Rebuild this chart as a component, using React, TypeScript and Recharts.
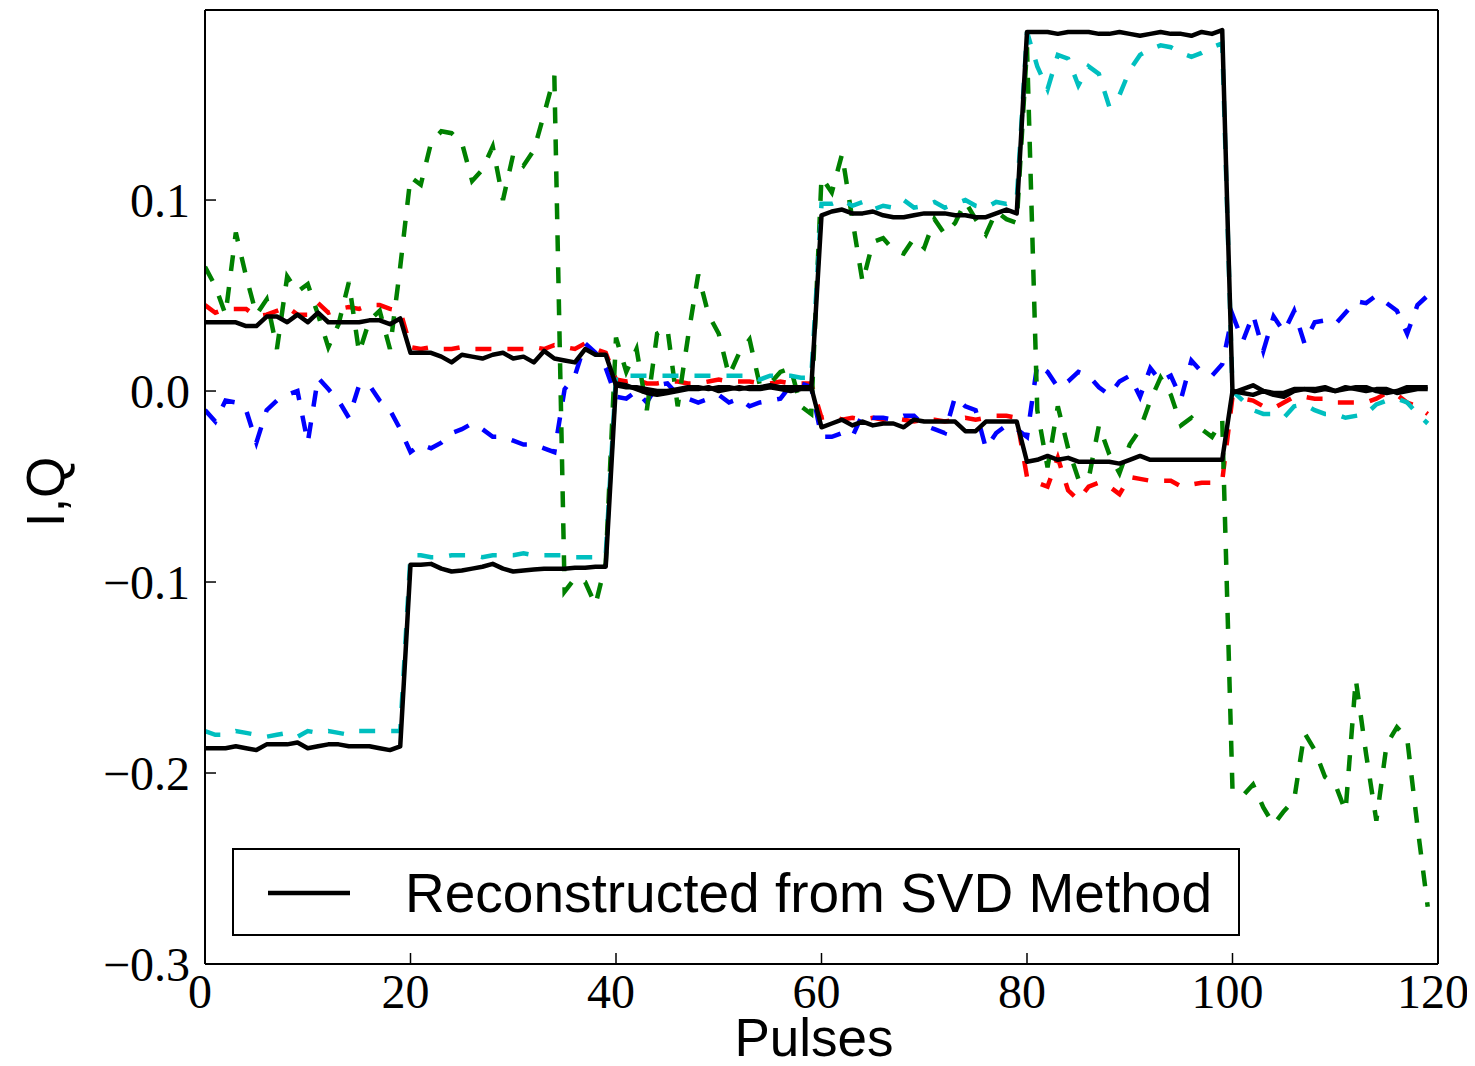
import React from 'react';
import { LineChart, Line, XAxis, YAxis, Legend } from 'recharts';

// Pulse index (x categories)
const pulses: number[] = [
  0, 1, 2, 3, 4, 5, 6, 7, 8, 9, 10, 11, 12, 13, 14, 15, 16, 17, 18, 19,
  20, 21, 22, 23, 24, 25, 26, 27, 28, 29, 30, 31, 32, 33, 34, 35, 36, 37, 38, 39,
  40, 41, 42, 43, 44, 45, 46, 47, 48, 49, 50, 51, 52, 53, 54, 55, 56, 57, 58, 59,
  60, 61, 62, 63, 64, 65, 66, 67, 68, 69, 70, 71, 72, 73, 74, 75, 76, 77, 78, 79,
  80, 81, 82, 83, 84, 85, 86, 87, 88, 89, 90, 91, 92, 93, 94, 95, 96, 97, 98, 99,
  100, 101, 102, 103, 104, 105, 106, 107, 108, 109, 110, 111, 112, 113, 114, 115, 116, 117, 118, 119,
];

const xTicks = [0, 20, 40, 60, 80, 100, 120];
const yTicks = [-0.3, -0.2, -0.1, 0, 0.1];

// red dashed
const redSeries: number[] = [
  0.045, 0.041, 0.043, 0.043, 0.043, 0.039, 0.040, 0.042, 0.044, 0.040, 0.040, 0.046, 0.041, 0.043, 0.044, 0.043, 0.045, 0.045, 0.043, 0.042,
  0.023, 0.022, 0.023, 0.022, 0.022, 0.023, 0.022, 0.022, 0.022, 0.022, 0.022, 0.022, 0.023, 0.022, 0.024, 0.023, 0.022, 0.025, 0.022, 0.020,
  0.006, 0.005, 0.006, 0.004, 0.004, 0.005, 0.005, 0.004, 0.004, 0.005, 0.006, 0.005, 0.005, 0.005, 0.004, 0.004, 0.005, 0.004, 0.004, 0.004,
  -0.014, -0.013, -0.015, -0.014, -0.015, -0.014, -0.015, -0.014, -0.015, -0.016, -0.015, -0.015, -0.016, -0.015, -0.014, -0.015, -0.014, -0.013, -0.013, -0.014,
  -0.045, -0.048, -0.050, -0.035, -0.052, -0.057, -0.050, -0.048, -0.050, -0.054, -0.045, -0.046, -0.047, -0.047, -0.047, -0.050, -0.049, -0.048, -0.048, -0.047,
  -0.003, -0.004, -0.005, -0.008, -0.009, -0.006, -0.003, -0.003, -0.004, -0.004, -0.006, -0.006, -0.006, -0.006, -0.004, -0.001, -0.002, -0.006, -0.008, -0.012,
];

// blue dashed
const blueSeries: number[] = [
  -0.010, -0.016, -0.005, -0.006, -0.010, -0.027, -0.010, -0.005, -0.002, 0.000, -0.027, 0.007, 0.001, -0.005, -0.014, 0.003, 0.003, -0.005, -0.010, -0.020,
  -0.032, -0.028, -0.030, -0.027, -0.022, -0.020, -0.017, -0.020, -0.024, -0.024, -0.026, -0.028, -0.028, -0.030, -0.032, 0.001, 0.008, 0.025, 0.020, 0.012,
  -0.003, -0.004, 0.000, -0.006, 0.003, 0.004, -0.002, -0.004, -0.006, -0.004, -0.002, -0.006, -0.004, -0.008, -0.006, -0.005, -0.004, 0.003, 0.004, 0.002,
  -0.024, -0.024, -0.022, -0.024, -0.012, -0.014, -0.014, -0.015, -0.013, -0.013, -0.018, -0.020, -0.022, -0.003, -0.008, -0.010, -0.030, -0.022, -0.018, -0.020,
  -0.024, 0.014, 0.010, 0.002, 0.005, 0.010, 0.008, 0.002, -0.002, 0.005, 0.008, -0.003, 0.012, 0.005, 0.008, -0.004, 0.016, 0.010, 0.008, 0.014,
  0.040, 0.026, 0.040, 0.021, 0.039, 0.031, 0.042, 0.025, 0.036, 0.037, 0.035, 0.041, 0.047, 0.046, 0.050, 0.046, 0.042, 0.030, 0.045, 0.050,
];

// green dashed
const greenSeries: number[] = [
  0.065, 0.055, 0.040, 0.083, 0.060, 0.040, 0.048, 0.022, 0.060, 0.052, 0.056, 0.040, 0.023, 0.035, 0.057, 0.020, 0.037, 0.042, 0.022, 0.065,
  0.112, 0.108, 0.130, 0.136, 0.135, 0.130, 0.110, 0.116, 0.128, 0.100, 0.124, 0.118, 0.126, 0.145, 0.165, -0.105, -0.098, -0.100, -0.112, -0.090,
  0.028, 0.010, 0.022, -0.010, 0.030, 0.033, -0.008, 0.028, 0.061, 0.040, 0.030, 0.008, 0.020, 0.027, 0.003, 0.004, 0.010, 0.012, -0.008, -0.012,
  0.112, 0.104, 0.124, 0.090, 0.057, 0.078, 0.080, 0.074, 0.072, 0.080, 0.075, 0.090, 0.082, 0.088, 0.099, 0.090, 0.082, 0.094, 0.090, 0.088,
  0.180, -0.010, -0.040, -0.008, -0.030, -0.046, -0.046, -0.018, -0.033, -0.043, -0.028, -0.020, -0.005, 0.007, -0.002, -0.018, -0.014, -0.020, -0.024, -0.015,
  -0.209, -0.212, -0.206, -0.218, -0.227, -0.220, -0.214, -0.179, -0.188, -0.202, -0.206, -0.220, -0.151, -0.190, -0.225, -0.185, -0.176, -0.182, -0.228, -0.270,
];

// cyan dashed
const cyanSeries: number[] = [
  -0.178, -0.180, -0.180, -0.178, -0.179, -0.180, -0.181, -0.180, -0.179, -0.181, -0.178, -0.179, -0.178, -0.179, -0.180, -0.178, -0.178, -0.178, -0.178, -0.178,
  -0.086, -0.086, -0.087, -0.087, -0.086, -0.086, -0.086, -0.087, -0.086, -0.086, -0.086, -0.085, -0.086, -0.086, -0.086, -0.086, -0.087, -0.087, -0.087, -0.086,
  0.008, 0.008, 0.008, 0.008, 0.008, 0.008, 0.008, 0.008, 0.008, 0.008, 0.008, 0.008, 0.008, 0.008, 0.006, 0.008, 0.008, 0.008, 0.007, 0.007,
  0.098, 0.098, 0.100, 0.097, 0.099, 0.095, 0.097, 0.096, 0.100, 0.096, 0.097, 0.099, 0.096, 0.098, 0.100, 0.097, 0.096, 0.099, 0.098, 0.100,
  0.188, 0.170, 0.158, 0.176, 0.174, 0.160, 0.170, 0.166, 0.149, 0.155, 0.168, 0.176, 0.179, 0.181, 0.180, 0.177, 0.175, 0.177, 0.180, 0.182,
  0.000, -0.005, -0.010, -0.012, -0.012, -0.014, -0.008, -0.007, -0.010, -0.012, -0.012, -0.014, -0.013, -0.012, -0.007, -0.005, -0.004, -0.006, -0.012, -0.017,
];

// black solid: reconstructed from SVD (first component)
const reconA: number[] = [
  0.036, 0.036, 0.036, 0.036, 0.034, 0.034, 0.039, 0.039, 0.036, 0.040, 0.036, 0.041, 0.036, 0.036, 0.036, 0.036, 0.037, 0.037, 0.035, 0.038,
  0.020, 0.020, 0.020, 0.018, 0.015, 0.019, 0.018, 0.017, 0.019, 0.020, 0.017, 0.018, 0.015, 0.021, 0.017, 0.016, 0.015, 0.022, 0.019, 0.019,
  0.003, 0.002, 0.002, 0.001, 0.000, 0.000, 0.001, 0.002, 0.002, 0.001, 0.002, 0.002, 0.001, 0.002, 0.002, 0.003, 0.002, 0.002, 0.002, 0.002,
  -0.019, -0.017, -0.015, -0.018, -0.016, -0.018, -0.017, -0.017, -0.019, -0.015, -0.016, -0.016, -0.016, -0.016, -0.021, -0.021, -0.016, -0.016, -0.016, -0.016,
  -0.037, -0.036, -0.034, -0.036, -0.035, -0.037, -0.037, -0.037, -0.037, -0.038, -0.036, -0.034, -0.036, -0.036, -0.036, -0.036, -0.036, -0.036, -0.036, -0.036,
  0.000, -0.001, -0.002, 0.000, -0.002, -0.003, 0.000, 0.001, 0.000, 0.001, 0.000, 0.002, 0.001, 0.000, 0.001, 0.001, -0.001, 0.000, 0.001, 0.001,
];

// black solid: reconstructed from SVD (second component)
const reconB: number[] = [
  -0.187, -0.187, -0.187, -0.186, -0.187, -0.188, -0.185, -0.185, -0.185, -0.184, -0.187, -0.186, -0.185, -0.185, -0.186, -0.186, -0.186, -0.187, -0.188, -0.186,
  -0.091, -0.091, -0.0905, -0.093, -0.0945, -0.094, -0.093, -0.092, -0.0905, -0.093, -0.0945, -0.094, -0.0935, -0.093, -0.093, -0.093, -0.0925, -0.0925, -0.092, -0.092,
  0.004, 0.003, 0.001, -0.001, -0.002, -0.001, 0.000, 0.001, 0.001, 0.002, 0.000, 0.001, 0.002, 0.001, 0.001, 0.002, 0.001, 0.000, 0.001, 0.001,
  0.092, 0.094, 0.095, 0.093, 0.093, 0.094, 0.092, 0.091, 0.091, 0.092, 0.093, 0.093, 0.093, 0.092, 0.092, 0.091, 0.091, 0.093, 0.095, 0.093,
  0.188, 0.188, 0.188, 0.187, 0.188, 0.188, 0.188, 0.187, 0.187, 0.188, 0.187, 0.186, 0.187, 0.188, 0.187, 0.187, 0.186, 0.188, 0.187, 0.189,
  -0.001, 0.001, 0.003, 0.000, -0.001, -0.001, 0.001, 0.001, 0.001, 0.002, 0.000, 0.001, 0.002, 0.002, 0.000, -0.001, 0.000, 0.002, 0.002, 0.002,
];

const data = pulses.map((x, i) => ({
  x,
  red: redSeries[i],
  blue: blueSeries[i],
  green: greenSeries[i],
  cyan: cyanSeries[i],
  recA: reconA[i],
  recB: reconB[i],
}));

const SERIF = '"Liberation Serif", "DejaVu Serif", serif';
const SANS = '"Liberation Sans", Arial, sans-serif';

const fmtY = (v: number) => (v < 0 ? '\u2212' : '') + Math.abs(v).toFixed(1);
const fmtX = (v: number) => String(v);

const tickStyleY = { fontFamily: SERIF, fontSize: 48, fill: '#000' };
const tickStyleX = { fontFamily: SERIF, fontSize: 48, fill: '#000', dx: -5 };

const renderLegend = () => (
  <div
    style={{
      width: 1008,
      height: 88,
      boxSizing: 'border-box',
      border: '2px solid #000',
      background: '#fff',
      position: 'relative',
    }}
  >
    <svg width={1004} height={84} style={{ position: 'absolute', left: 0, top: 0 }}>
      <line x1={34} x2={116} y1={43} y2={43} stroke="#000" strokeWidth={4.5} />
      <text x={171} y={62} fontFamily={SANS} fontSize={55} fill="#000">
        Reconstructed from SVD Method
      </text>
    </svg>
  </div>
);

const yLabel = () => (
  <text
    x={64}
    y={492}
    transform="rotate(-90 64 492)"
    textAnchor="middle"
    fontFamily={SANS}
    fontSize={53}
    fill="#000"
  >
    I,Q
  </text>
);

const xLabel = () => (
  <text x={814} y={1056} textAnchor="middle" fontFamily={SANS} fontSize={53} fill="#000">
    Pulses
  </text>
);

const dash = '16 16';
const SW = 4.5;

export default function App() {
  return (
    <div style={{ margin: '-8px -8px', width: 1475, height: 1066 }}>
      <LineChart
        width={1475}
        height={1066}
        data={data}
        margin={{ top: 9, right: 27, left: 15, bottom: 22 }}
      >
        <XAxis
          dataKey="x"
          type="number"
          domain={[0, 120]}
          ticks={xTicks}
          interval={0}
          allowDataOverflow
          height={80}
          tickSize={-11}
          tickMargin={21}
          tickFormatter={fmtX}
          tick={tickStyleX}
          axisLine={{ stroke: '#000', strokeWidth: 2 }}
          tickLine={{ stroke: '#000', strokeWidth: 1.5 }}
          label={xLabel}
        />
        <XAxis
          xAxisId="t"
          orientation="top"
          type="number"
          domain={[0, 120]}
          ticks={xTicks}
          interval={0}
          allowDataOverflow
          height={1}
          tickSize={-11}
          tick={false}
          axisLine={{ stroke: '#000', strokeWidth: 2 }}
          tickLine={{ stroke: '#000', strokeWidth: 1.5 }}
        />
        <YAxis
          type="number"
          domain={[-0.3, 0.1995]}
          ticks={yTicks}
          interval={0}
          allowDataOverflow
          width={190}
          tickSize={-11}
          tickMargin={26}
          tickFormatter={fmtY}
          tick={tickStyleY}
          axisLine={{ stroke: '#000', strokeWidth: 2 }}
          tickLine={{ stroke: '#000', strokeWidth: 1.5 }}
          label={yLabel}
        />
        <YAxis
          yAxisId="r"
          orientation="right"
          type="number"
          domain={[-0.3, 0.1995]}
          ticks={yTicks}
          interval={0}
          allowDataOverflow
          width={10}
          tickSize={-11}
          tick={false}
          axisLine={{ stroke: '#000', strokeWidth: 2 }}
          tickLine={{ stroke: '#000', strokeWidth: 1.5 }}
        />
        <Line type="linear" dataKey="red" stroke="#ff0000" strokeWidth={SW} strokeDasharray={dash} dot={false} activeDot={false} isAnimationActive={false} legendType="none" />
        <Line type="linear" dataKey="blue" stroke="#0000ff" strokeWidth={SW} strokeDasharray={dash} dot={false} activeDot={false} isAnimationActive={false} legendType="none" />
        <Line type="linear" dataKey="green" stroke="#008000" strokeWidth={SW} strokeDasharray={dash} dot={false} activeDot={false} isAnimationActive={false} legendType="none" />
        <Line type="linear" dataKey="cyan" stroke="#00bfbf" strokeWidth={SW} strokeDasharray={dash} dot={false} activeDot={false} isAnimationActive={false} legendType="none" />
        <Line type="linear" dataKey="recA" name="Reconstructed from SVD Method" stroke="#000" strokeWidth={SW} strokeLinejoin="round" dot={false} activeDot={false} isAnimationActive={false} />
        <Line type="linear" dataKey="recB" stroke="#000" strokeWidth={SW} strokeLinejoin="round" dot={false} activeDot={false} isAnimationActive={false} legendType="none" />
        <Legend
          layout="horizontal"
          verticalAlign="middle"
          align="center"
          wrapperStyle={{ left: 232, top: 848, width: 1008, height: 88, margin: 0, padding: 0 }}
          content={renderLegend}
        />
      </LineChart>
    </div>
  );
}
